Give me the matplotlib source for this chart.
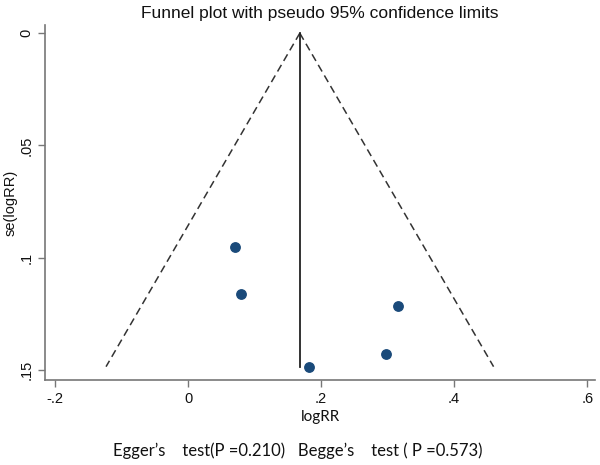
import matplotlib
matplotlib.use("Agg")
import matplotlib.pyplot as plt
import numpy as np

# Data
log_rr = [0.071, 0.080, 0.315, 0.298, 0.182]
se_log_rr = [0.0951, 0.1162, 0.1215, 0.1428, 0.1486]
pooled = 0.168
se_max = 0.1486
x_ticks = [-0.2, 0, 0.2, 0.4, 0.6]
x_tick_labels = ["-.2", "0", ".2", ".4", ".6"]
y_ticks = [0, 0.05, 0.1, 0.15]
y_tick_labels = ["0", ".05", ".1", ".15"]

fig = plt.figure(figsize=(6, 4.65), dpi=100)
ax = fig.add_axes([0.075, 0.183, 0.917, 0.763])

se_line = np.array([0.0, se_max])
ax.plot(pooled - 1.96 * se_line, se_line, ls=(0, (5, 3)), color="#333333", lw=1.1)
ax.plot(pooled + 1.96 * se_line, se_line, ls=(0, (5, 3)), color="#333333", lw=1.1)
ax.plot([pooled, pooled], [0, se_max], color="#222222", lw=1.3)
ax.scatter(log_rr, se_log_rr, s=46, color="#1a4a7a", zorder=3)

ax.set_xlim(-0.215, 0.612)
ax.set_ylim(0.1545, -0.0036)
ax.set_xticks(x_ticks)
ax.set_xticklabels(x_tick_labels, fontsize=10.5, family="Liberation Sans")
ax.set_yticks(y_ticks)
ax.set_yticklabels(y_tick_labels, fontsize=10.5, family="Liberation Sans", rotation=90, va="center")
for s in ["top", "right"]:
    ax.spines[s].set_visible(False)
for s in ["left", "bottom"]:
    ax.spines[s].set_color("#777777")
    ax.spines[s].set_linewidth(1.2)
ax.tick_params(colors="#777777", labelcolor="#111111", length=5, width=1)

ax.set_ylabel("se(logRR)", fontsize=10.5, family="Liberation Sans", color="#111111")
ax.yaxis.set_label_coords(-0.049, 0.5)
ax.set_xlabel("logRR", fontsize=11, family="Lato", color="#111111", labelpad=3)
ax.set_title("Funnel plot with pseudo 95% confidence limits", fontsize=12.5,
             family="Liberation Sans", color="#111111", pad=5)

fig.text(0.497, 0.030, "Egger\u2019s    test(P =0.210)   Begge\u2019s    test ( P =0.573)",
         ha="center", va="center", fontsize=12, family="Lato", color="#111111")

fig.savefig("out.png", dpi=100)
